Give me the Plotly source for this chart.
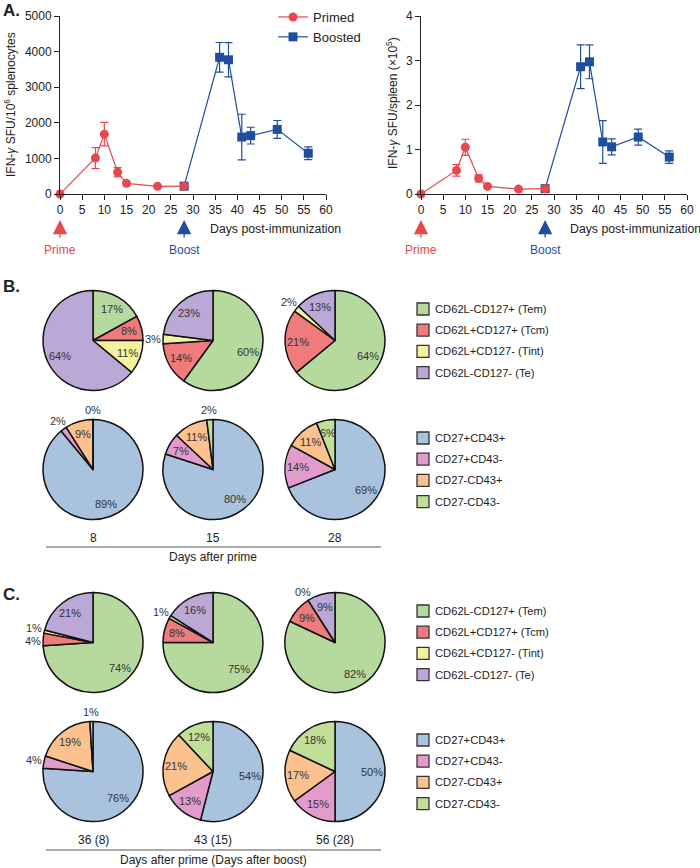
import math
import plotly.graph_objects as go

W, H = 700, 868

### panel A data
prime_days = [0, 8, 10, 13, 15, 22, 28]
prime_sfu = [0, 1010, 1680, 610, 300, 215, 220]
prime_sfu_err = [0, 295, 330, 130, 40, 30, 30]
boost_days = [28, 36, 38, 41, 43, 49, 56]
boost_sfu = [220, 3840, 3770, 1600, 1640, 1815, 1145]
boost_sfu_err = [30, 415, 480, 640, 235, 250, 180]

prime_spleen = [0, 0.53, 1.05, 0.35, 0.17, 0.11, 0.12]
prime_spleen_err = [0, 0.13, 0.18, 0.08, 0.02, 0.02, 0.02]
boost_spleen = [0.12, 2.86, 2.97, 1.17, 1.06, 1.28, 0.83]
boost_spleen_err = [0.02, 0.49, 0.38, 0.48, 0.18, 0.18, 0.14]

### panel B / C data
memory_labels = ["CD62L-CD127+ (Tem)", "CD62L+CD127+ (Tcm)", "CD62L+CD127- (Tint)", "CD62L-CD127- (Te)"]
cd_labels = ["CD27+CD43+", "CD27+CD43-", "CD27-CD43+", "CD27-CD43-"]
prime_memory = [[17, 8, 11, 64], [60, 14, 3, 23], [64, 21, 2, 13]]
prime_cd = [[89, 2, 9, 0], [80, 7, 11, 2], [69, 14, 11, 6]]
boost_memory = [[74, 4, 1, 21], [75, 8, 1, 16], [82, 9, 0, 9]]
boost_cd = [[76, 4, 19, 1], [54, 13, 21, 12], [50, 15, 17, 18]]
prime_ticks = ["8", "15", "28"]
boost_ticks = ["36 (8)", "43 (15)", "56 (28)"]

memory_colors = ["#b6da9e", "#f07b7b", "#f6f19c", "#bba8d6"]
cd_colors = ["#a9c3df", "#e39bcb", "#fcc18f", "#c1df98"]
RED = "#e8474c"
BLUE = "#1f4e9f"
FONT = "Liberation Sans, Arial, sans-serif"

fig = go.Figure()


def px_x(p):
    return p / W


def px_y(p):
    return 1 - p / H


### panel A line charts
def add_lines(xa, ya, yp, yp_err, yb, yb_err, legend):
    fig.add_trace(go.Scatter(
        x=boost_days, y=yb, name="Boosted", xaxis=xa, yaxis=ya,
        mode="lines+markers", legendrank=2, showlegend=legend,
        line=dict(color=BLUE, width=1.2),
        marker=dict(symbol="square", size=9, color=BLUE),
        error_y=dict(type="data", array=yb_err, color=BLUE, thickness=1.2, width=4),
        cliponaxis=False,
    ))
    fig.add_trace(go.Scatter(
        x=prime_days, y=yp, name="Primed", xaxis=xa, yaxis=ya,
        mode="lines+markers", legendrank=1, showlegend=legend,
        line=dict(color=RED, width=1.2),
        marker=dict(symbol="circle", size=9, color=RED),
        error_y=dict(type="data", array=yp_err, color=RED, thickness=1.2, width=4),
        cliponaxis=False,
    ))


add_lines("x", "y", prime_sfu, prime_sfu_err, boost_sfu, boost_sfu_err, True)
add_lines("x2", "y2", prime_spleen, prime_spleen_err, boost_spleen, boost_spleen_err, False)

axis_style = dict(showline=True, linecolor="#222", linewidth=1, ticks="outside",
                  ticklen=5, tickcolor="#222", showgrid=False, zeroline=False,
                  automargin=False, tickfont=dict(size=12, color="#222"))
fig.update_layout(
    xaxis=dict(domain=[px_x(60), px_x(326)], range=[0, 60], dtick=5, anchor="y", **axis_style),
    yaxis=dict(domain=[px_y(194), px_y(16)], range=[0, 5000], dtick=1000, anchor="x", **axis_style),
    xaxis2=dict(domain=[px_x(421), px_x(687)], range=[0, 60], dtick=5, anchor="y2", **axis_style),
    yaxis2=dict(domain=[px_y(194), px_y(16)], range=[0, 4], dtick=1, anchor="x2", **axis_style),
)

ann = []
shapes = []


def txt(x, y, s, size=12, color="#222", xanchor="center", **kw):
    ann.append(dict(x=px_x(x), y=px_y(y), xref="paper", yref="paper", text=s,
                    showarrow=False, xanchor=xanchor, yanchor="middle",
                    font=dict(size=size, color=color, family=FONT), **kw))


# axis titles
txt(10, 105, "IFN-<i>γ</i> SFU/10<sup>6</sup> splenocytes", textangle=-90)
txt(392, 103, "IFN-<i>γ</i> SFU/spleen (<i>×</i>10<sup>5</sup>)", textangle=-90)
txt(208, 229, "Days post-immunization", xanchor="left", size=12.3)
txt(568, 229, "Days post-immunization", xanchor="left", size=12.3)

# prime / boost arrows
for xa in ["x", "x2"]:
    for day, col, lab in [(0, RED, "Prime"), (28, BLUE, "Boost")]:
        ann.append(dict(x=day, y=px_y(220), xref=xa, yref="paper", text="",
                        showarrow=True, ax=0, ay=19, arrowhead=2, arrowsize=2.2,
                        arrowwidth=1.3, arrowcolor=col))
        ann.append(dict(x=day, y=px_y(250), xref=xa, yref="paper", text=lab,
                        showarrow=False, yanchor="middle",
                        font=dict(size=12, color=col, family=FONT)))

# panel letters
txt(1, 10, "<b>A.</b>", size=17, xanchor="left")
txt(1, 287, "<b>B.</b>", size=17, xanchor="left")
txt(1, 594, "<b>C.</b>", size=17, xanchor="left")

### pies
R = 50
pie_cx = [93, 213, 335]


def add_pie_row(rows, labels, colors, cy):
    for i, vals in enumerate(rows):
        cx = pie_cx[i]
        fig.add_trace(go.Pie(
            labels=labels, values=vals, sort=False, direction="clockwise",
            textinfo="none", hoverinfo="label+percent", showlegend=False,
            marker=dict(colors=colors, line=dict(color="#111", width=1.5)),
            domain=dict(x=[px_x(cx - R), px_x(cx + R)], y=[px_y(cy + R), px_y(cy - R)]),
        ))
        total = sum(vals)
        cum = 0
        outside = []
        for v in vals:
            theta = math.radians((cum + v / 2) / total * 360)
            k = 1.2 if v <= 4 else 0.74
            lx = cx + math.sin(theta) * k * R
            ly = cy - math.cos(theta) * k * R
            if v <= 4:
                outside.append([lx, ly, v])
            else:
                txt(lx, ly, f"{v}%", size=11, color="#333")
            cum += v
        # keep neighbouring small-slice labels apart
        for a, b in zip(outside, outside[1:]):
            if abs(a[1] - b[1]) < 13 and abs(a[0] - b[0]) < 18:
                gap = (13 - abs(a[1] - b[1])) / 2
                lo, hi = (a, b) if a[1] > b[1] else (b, a)
                lo[1] += gap
                hi[1] -= gap
        for lx, ly, v in outside:
            txt(lx, ly, f"{v}%", size=11, color="#333")

    # legend swatches for the row
    for j, (lab, col) in enumerate(zip(labels, colors)):
        ly = cy - 31.5 + j * 21.2
        shapes.append(dict(type="rect", xref="paper", yref="paper",
                           x0=px_x(417), x1=px_x(429), y0=px_y(ly + 6), y1=px_y(ly - 6),
                           fillcolor=col, line=dict(color="#333", width=1.3)))
        txt(433, ly, lab, size=11.2, xanchor="left")


add_pie_row(prime_memory, memory_labels, memory_colors, 340.5)
add_pie_row(prime_cd, cd_labels, cd_colors, 469.5)
add_pie_row(boost_memory, memory_labels, memory_colors, 642.5)
add_pie_row(boost_cd, cd_labels, cd_colors, 771.5)

for i, t in enumerate(prime_ticks):
    txt(pie_cx[i], 538, t)
for i, t in enumerate(boost_ticks):
    txt(pie_cx[i], 840, t)
txt(213, 557, "Days after prime")
txt(213, 860, "Days after prime (Days after boost)")
for y in [547, 850]:
    shapes.append(dict(type="line", xref="paper", yref="paper", x0=px_x(46), x1=px_x(381),
                       y0=px_y(y), y1=px_y(y), line=dict(color="#555", width=1)))

fig.update_layout(
    width=W, height=H,
    margin=dict(l=0, r=0, t=0, b=0, autoexpand=False),
    paper_bgcolor="white", plot_bgcolor="white",
    font=dict(family=FONT, size=12, color="#222"),
    annotations=ann, shapes=shapes,
    legend=dict(x=px_x(273), y=px_y(2), xanchor="left", yanchor="top",
                font=dict(size=13, color="#222", family=FONT), bgcolor="rgba(0,0,0,0)"),
)

# drop the browser's default page margin so the figure sits at the top-left corner
fig.write_html("out.html", config={"displayModeBar": False},
               post_script="document.body.style.margin='0';")
